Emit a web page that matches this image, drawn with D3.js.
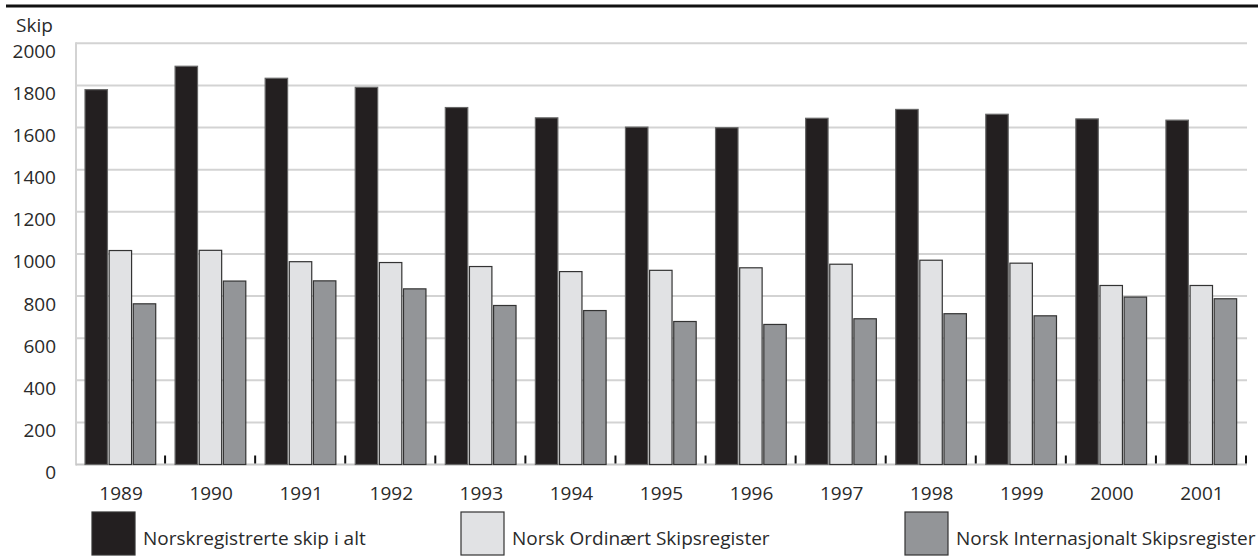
<!DOCTYPE html>
<html>
<head>
<meta charset="utf-8">
<script src="https://cdn.jsdelivr.net/npm/d3@7"></script>
<style>
  body { margin: 0; background: #fff; }
  svg { display: block; font-family: "Open Sans", sans-serif; }
</style>
</head>
<body>
<svg width="1258" height="556"></svg>
<script>
// chart data
var years = ["1989","1990","1991","1992","1993","1994","1995","1996","1997","1998","1999","2000","2001"];
var seriesNames = ["Norskregistrerte skip i alt", "Norsk Ordinært Skipsregister", "Norsk Internasjonalt Skipsregister"];
var total = [1780, 1891, 1834, 1791, 1695, 1646, 1602, 1599, 1644, 1686, 1663, 1641, 1635];
var nor = [1016, 1017, 963, 959, 940, 916, 922, 934, 951, 970, 956, 850, 850];
var nis = [763, 871, 872, 834, 755, 731, 679, 665, 692, 716, 706, 795, 787];
var yTicks = [0, 200, 400, 600, 800, 1000, 1200, 1400, 1600, 1800, 2000];

var colours = ["#231f20", "#e1e2e4", "#939598"];
var strokes = ["#666", "#333", "#333"];

var svg = d3.select("svg");
var plotLeft = 76, plotRight = 1247, plotTop = 43.3, plotBottom = 464.5;

var x0 = d3.scaleBand().domain(years).range([plotLeft, plotRight]);
var bw = x0.bandwidth();
var x1 = d3.scaleBand().domain([0, 1, 2]).range([bw * 0.1, bw * 0.885]).paddingInner(0.07);
var y = d3.scaleLinear().domain([0, 2000]).range([plotBottom, plotTop]);

// top rule
svg.append("line")
    .attr("x1", 6).attr("x2", 1258)
    .attr("y1", 6).attr("y2", 6)
    .attr("stroke", "#111").attr("stroke-width", 3);

svg.append("text")
    .attr("x", 16).attr("y", 32)
    .attr("font-size", 19).attr("fill", "#2a2a2a")
    .text("Skip");

// gridlines
svg.append("g").selectAll("line")
    .data(yTicks.slice(1))
    .enter().append("line")
    .attr("x1", plotLeft).attr("x2", plotRight)
    .attr("y1", function(d) { return y(d); })
    .attr("y2", function(d) { return y(d); })
    .attr("stroke", "#d3d3d3").attr("stroke-width", 2);

// left and bottom axis lines
svg.append("line")
    .attr("x1", plotLeft).attr("x2", plotLeft).attr("y1", plotTop - 1).attr("y2", plotBottom + 1)
    .attr("stroke", "#d3d3d3").attr("stroke-width", 2);
svg.append("line")
    .attr("x1", plotLeft).attr("x2", plotRight).attr("y1", plotBottom).attr("y2", plotBottom)
    .attr("stroke", "#c8c8c8").attr("stroke-width", 2);

// y axis labels
var yAxis = d3.axisLeft(y).tickValues(yTicks).tickSize(0).tickPadding(20).tickFormat(d3.format("d"));
var ya = svg.append("g").attr("transform", "translate(" + plotLeft + ",8)").call(yAxis);
ya.select(".domain").remove();
ya.selectAll("text").attr("font-size", 19).attr("fill", "#2a2a2a").attr("font-family", "Open Sans, sans-serif");

// bars
var rows = years.map(function(yr, i) { return { year: yr, vals: [total[i], nor[i], nis[i]] }; });
var groups = svg.append("g").selectAll("g")
    .data(rows)
    .enter().append("g")
    .attr("transform", function(d) { return "translate(" + x0(d.year) + ",0)"; });

groups.selectAll("rect")
    .data(function(d) { return d.vals.map(function(v, k) { return { k: k, v: v }; }); })
    .enter().append("rect")
    .attr("x", function(d) { return x1(d.k); })
    .attr("width", x1.bandwidth())
    .attr("y", function(d) { return y(d.v); })
    .attr("height", function(d) { return plotBottom - y(d.v); })
    .attr("fill", function(d) { return colours[d.k]; })
    .attr("stroke", function(d) { return strokes[d.k]; })
    .attr("stroke-width", 1.2);

// small tick marks between groups
groups.append("line")
    .attr("x1", bw - 1).attr("x2", bw - 1)
    .attr("y1", plotBottom - 9).attr("y2", plotBottom - 1)
    .attr("stroke", "#111").attr("stroke-width", 2);

// x axis labels
var xAxis = d3.axisBottom(x0).tickSize(0).tickPadding(22);
var xa = svg.append("g").attr("transform", "translate(0," + plotBottom + ")").call(xAxis);
xa.select(".domain").remove();
xa.selectAll("text").attr("font-size", 19).attr("fill", "#2a2a2a").attr("font-family", "Open Sans, sans-serif");

// legend
var legendX = [92, 461, 905];
var legend = svg.append("g").selectAll("g")
    .data(seriesNames)
    .enter().append("g")
    .attr("transform", function(d, i) { return "translate(" + legendX[i] + ",512)"; });
legend.append("rect")
    .attr("width", 43).attr("height", 43)
    .attr("fill", function(d, i) { return colours[i]; })
    .attr("stroke", "#333").attr("stroke-width", 1.2);
legend.append("text")
    .attr("x", 51).attr("y", 33)
    .attr("font-size", 19).attr("fill", "#2a2a2a")
    .text(function(d) { return d; });
</script>
</body>
</html>
